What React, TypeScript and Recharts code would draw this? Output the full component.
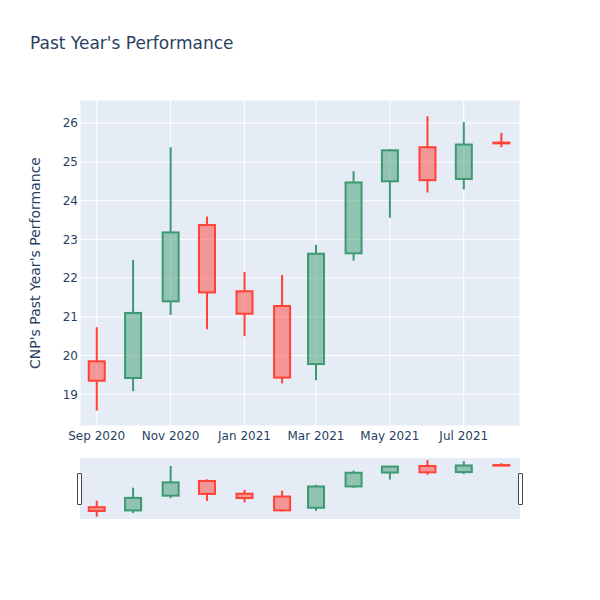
import React from "react";
import {
  ComposedChart,
  Bar,
  XAxis,
  YAxis,
  CartesianGrid,
} from "recharts";

const dates = [
  "2020-09-01", "2020-10-01", "2020-11-01", "2020-12-01",
  "2021-01-01", "2021-02-01", "2021-03-01", "2021-04-01",
  "2021-05-01", "2021-06-01", "2021-07-01", "2021-08-01",
];
const opens = [19.85, 19.42, 21.4, 23.37, 21.66, 21.28, 19.78, 22.64, 24.5, 25.38, 24.56, 25.5];
const highs = [20.73, 22.47, 25.38, 23.59, 22.16, 22.08, 22.86, 24.76, 25.33, 26.18, 26.03, 25.75];
const lows = [18.58, 19.08, 21.05, 20.68, 20.5, 19.28, 19.36, 22.45, 23.56, 24.21, 24.29, 25.38];
const closes = [19.35, 21.1, 23.18, 21.63, 21.08, 19.43, 22.63, 24.47, 25.3, 24.53, 25.45, 25.48];

const tickDates = ["2020-09-01", "2020-11-01", "2021-01-01", "2021-03-01", "2021-05-01", "2021-07-01"];
const yTicks = [19, 20, 21, 22, 23, 24, 25, 26];
const monthNames = ["Jan", "Feb", "Mar", "Apr", "May", "Jun", "Jul", "Aug", "Sep", "Oct", "Nov", "Dec"];

const toTs = (s: string) => new Date(s + "T00:00:00Z").getTime();

const data = dates.map((d, i) => ({
  t: toTs(d),
  open: opens[i],
  high: highs[i],
  low: lows[i],
  close: closes[i],
  range: [lows[i], highs[i]],
}));

const xDomain = [Date.UTC(2020, 7, 18, 5), Date.UTC(2021, 7, 16, 10)];
const xTicks = tickDates.map(toTs);

const UP = "#3D9970";
const DOWN = "#FF4136";
const FONT = "'DejaVu Sans', 'Open Sans', sans-serif";
const TEXT = "#2a3f5f";

const formatTick = (v: number) => {
  const d = new Date(v);
  return `${monthNames[d.getUTCMonth()]} ${d.getUTCFullYear()}`;
};

const Candle = (props: any) => {
  const { x, y, width, height, payload } = props;
  if (!payload || height == null) return null;
  const { open, close, high, low } = payload;
  const span = high - low || 1;
  const toY = (v: number) => y + ((high - v) / span) * height;
  const color = close >= open ? UP : DOWN;
  const cx = x + width / 2;
  const top = toY(Math.max(open, close));
  const bot = toY(Math.min(open, close));
  return (
    <g>
      <line x1={cx} x2={cx} y1={y} y2={top} stroke={color} strokeWidth={2} />
      <line x1={cx} x2={cx} y1={bot} y2={y + height} stroke={color} strokeWidth={2} />
      <rect
        x={x + 1}
        y={top}
        width={width - 2}
        height={Math.max(bot - top, 0.5)}
        fill={color}
        fillOpacity={0.5}
        stroke={color}
        strokeWidth={2}
      />
    </g>
  );
};

const handleStyle = (left: number): React.CSSProperties => ({
  position: "absolute",
  left,
  top: 473,
  width: 3,
  height: 30,
  background: "#fff",
  border: "1px solid #444",
  borderRadius: 1,
});

export default function App() {
  return (
    <div
      style={{
        position: "absolute",
        left: 0,
        top: 0,
        width: 600,
        height: 600,
        background: "#fff",
        fontFamily: FONT,
      }}
    >
      <div
        style={{
          position: "absolute",
          left: 30,
          top: 33,
          fontSize: 17,
          color: TEXT,
          whiteSpace: "nowrap",
        }}
      >
        Past Year's Performance
      </div>

      <div style={{ position: "absolute", left: 0, top: 0 }}>
        <ComposedChart
          width={600}
          height={450}
          data={data}
          margin={{ top: 100, right: 80, left: 30, bottom: 0 }}
        >
          <CartesianGrid fill="#e5ecf6" stroke="#fff" strokeWidth={1} />
          <XAxis
            dataKey="t"
            type="number"
            domain={xDomain}
            ticks={xTicks}
            tickFormatter={formatTick}
            allowDataOverflow
            axisLine={false}
            tickLine={false}
            tickSize={0}
            tickMargin={5}
            height={24}
            tick={{ fontSize: 12, fill: TEXT, fontFamily: FONT }}
          />
          <YAxis
            type="number"
            domain={[18.18, 26.6]}
            ticks={yTicks}
            allowDataOverflow
            axisLine={false}
            tickLine={false}
            tickSize={0}
            tickMargin={2}
            width={50}
            tick={{ fontSize: 12, fill: TEXT, fontFamily: FONT }}
            label={{
              value: "CNP's Past Year's Performance",
              angle: -90,
              position: "insideLeft",
              offset: 5,
              style: { textAnchor: "middle", fontSize: 14, fill: TEXT, fontFamily: FONT },
            }}
          />
          <Bar dataKey="range" barSize={18} shape={<Candle />} isAnimationActive={false} />
        </ComposedChart>
      </div>

      <div style={{ position: "absolute", left: 80, top: 458 }}>
        <ComposedChart
          width={440}
          height={61}
          data={data}
          margin={{ top: 0, right: 0, left: 0, bottom: 0 }}
        >
          <CartesianGrid fill="#e5ecf6" stroke="none" horizontal={false} vertical={false} />
          <XAxis dataKey="t" type="number" domain={xDomain} hide allowDataOverflow />
          <YAxis type="number" domain={[18.27, 26.45]} hide allowDataOverflow />
          <Bar dataKey="range" barSize={18} shape={<Candle />} isAnimationActive={false} />
        </ComposedChart>
      </div>

      <div style={handleStyle(77)} />
      <div style={handleStyle(518)} />
    </div>
  );
}
